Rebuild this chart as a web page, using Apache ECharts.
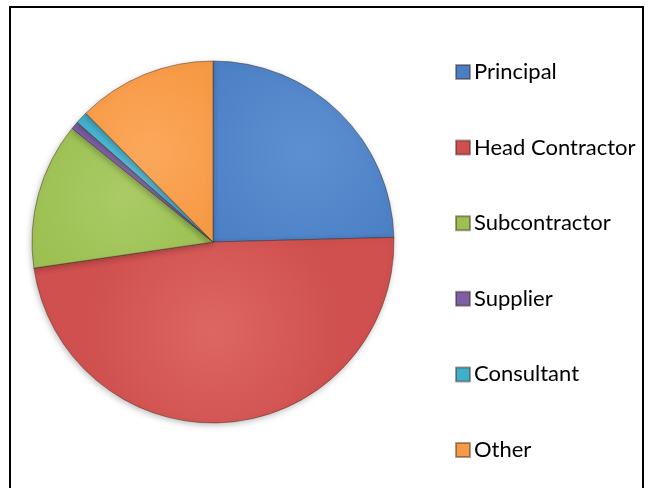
<!DOCTYPE html>
<html>
<head>
<meta charset="utf-8">
<script src="https://cdn.jsdelivr.net/npm/echarts@6/dist/echarts.min.js"></script>
<style>
  html, body { margin: 0; padding: 0; background: #fff; }
  #frame { position: absolute; left: 9px; top: 6px; width: 631px; height: 500px;
           border: 2px solid #000; border-bottom: none; }
  #chart { position: absolute; left: 0; top: 0; width: 648px; height: 488px; }
</style>
</head>
<body>
<div id="frame"></div>
<div id="chart"></div>
<script>
// share of each party (percent)
const categories = ['Principal', 'Head Contractor', 'Subcontractor', 'Supplier', 'Consultant', 'Other'];
const shares = [24.6, 48.1, 13.1, 0.7, 1.1, 12.4];
const baseColors = ['#4a7fc4', '#cf504e', '#9cc052', '#7d5fa6', '#3fb0cc', '#f79a45'];
const lightColors = ['#5d90d2', '#dd6663', '#aacb66', '#8f73b6', '#5cc0d8', '#fba85c'];

function sheen(i) {
  return {
    type: 'radial', x: 0.5, y: 0.5, r: 0.7,
    colorStops: [
      { offset: 0, color: lightColors[i] },
      { offset: 1, color: baseColors[i] },
    ],
  };
}

const chart = echarts.init(document.getElementById('chart'), null, { renderer: 'canvas' });
chart.setOption({
  animation: false,
  backgroundColor: 'transparent',
  legend: {
    orient: 'vertical',
    left: 450,
    top: 56,
    itemWidth: 14,
    itemHeight: 14,
    itemGap: 53.6,
    icon: 'rect',
    textStyle: { fontFamily: 'Lato', fontSize: 22, color: '#000', lineHeight: 22, padding: [0, 0, 0, -1] },
    data: categories.map((c, i) => ({ name: c, itemStyle: { color: baseColors[i] } })),
  },
  series: [{
    type: 'pie',
    center: [213, 242],
    radius: 181,
    startAngle: 90,
    clockwise: true,
    label: { show: false },
    labelLine: { show: false },
    emphasis: { disabled: true },
    itemStyle: {
      borderColor: 'rgba(60,40,30,0.45)',
      borderWidth: 1,
      shadowBlur: 6,
      shadowOffsetX: -1,
      shadowOffsetY: 2,
      shadowColor: 'rgba(0,0,0,0.25)',
    },
    data: categories.map((c, i) => ({
      name: c,
      value: shares[i],
      itemStyle: { color: sheen(i) },
    })),
  }],
});
window.addEventListener('resize', () => chart.resize());
</script>
</body>
</html>
